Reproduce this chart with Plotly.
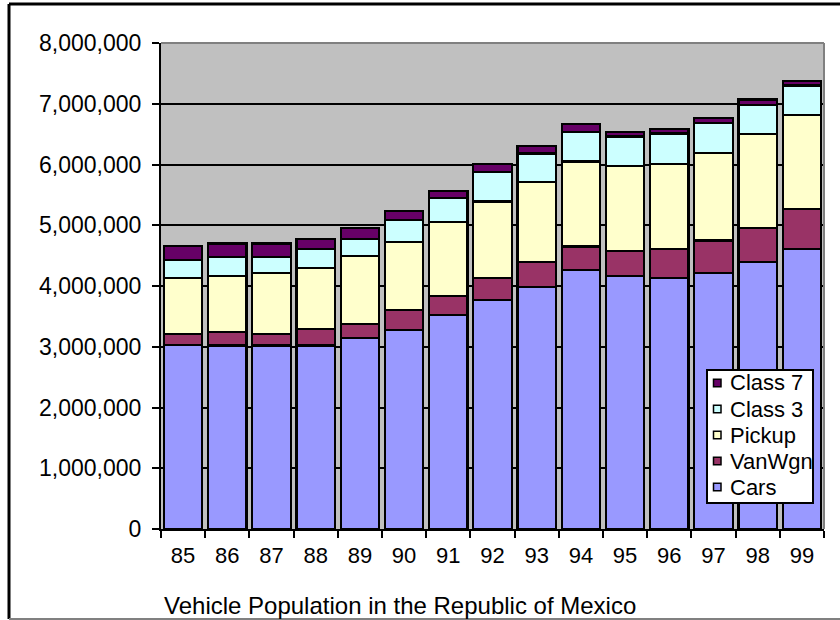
import plotly.graph_objects as go

# Model years (19xx) on the category axis
years = ["85", "86", "87", "88", "89", "90", "91", "92", "93", "94", "95", "96", "97", "98", "99"]

# Vehicle counts per class
cars = [3030000, 3020000, 3020000, 3020000, 3140000, 3280000, 3520000, 3770000,
        3990000, 4260000, 4170000, 4130000, 4210000, 4390000, 4610000]
vanwgn = [185000, 220000, 195000, 270000, 230000, 320000, 310000, 360000,
          400000, 390000, 400000, 480000, 540000, 570000, 660000]
pickup = [915000, 930000, 995000, 1010000, 1120000, 1130000, 1220000, 1260000,
          1320000, 1400000, 1400000, 1400000, 1440000, 1540000, 1540000]
class3 = [300000, 310000, 270000, 310000, 290000, 360000, 400000, 490000,
          470000, 480000, 490000, 500000, 490000, 480000, 490000]
class7 = [230000, 220000, 220000, 170000, 180000, 140000, 120000, 130000,
          130000, 140000, 70000, 70000, 80000, 90000, 70000]

series = [
    ("Cars", cars, "#9999FF"),
    ("VanWgn", vanwgn, "#993366"),
    ("Pickup", pickup, "#FFFFCC"),
    ("Class 3", class3, "#CCFFFF"),
    ("Class 7", class7, "#660066"),
]

FONT = "Arial, Liberation Sans, sans-serif"

fig = go.Figure()
for name, vals, color in series:
    fig.add_trace(go.Bar(
        x=years, y=vals, name=name, showlegend=False,
        marker=dict(color=color, line=dict(color="black", width=2.2)),
    ))

W, H = 840, 620
L, R, T, B = 161, 16, 43, 91
pw, ph = W - L - R, H - T - B

def px_x(p):
    return (p - L) / pw

def px_y(p):
    return (H - B - p) / ph

shapes = [
    # gray outline on the top and right edges of the plot area
    dict(type="line", xref="paper", yref="paper", x0=0, x1=1, y0=1, y1=1,
         line=dict(color="#808080", width=2), layer="below"),
    dict(type="line", xref="paper", yref="paper", x0=1, x1=1, y0=0, y1=1,
         line=dict(color="#808080", width=2)),
    # chart frame
    dict(type="line", xref="paper", yref="paper",
         x0=px_x(9), x1=px_x(860), y0=px_y(4), y1=px_y(4),
         line=dict(color="black", width=3)),
    dict(type="line", xref="paper", yref="paper",
         x0=px_x(9), x1=px_x(9), y0=px_y(4), y1=px_y(619),
         line=dict(color="black", width=3)),
    dict(type="line", xref="paper", yref="paper",
         x0=px_x(9), x1=px_x(860), y0=px_y(619), y1=px_y(619),
         line=dict(color="#808080", width=2)),
]

annotations = [
    dict(text="Vehicle Population in the Republic of Mexico",
         xref="paper", yref="paper", x=px_x(162), y=px_y(605),
         xanchor="left", yanchor="middle", showarrow=False,
         font=dict(family=FONT, size=24, color="black")),
]

# Legend box: entries listed top-down in reverse stacking order
LEG_L, LEG_R, LEG_T, LEG_B = 707, 813, 370, 503
shapes.append(dict(type="rect", xref="paper", yref="paper",
                   x0=px_x(LEG_L), x1=px_x(LEG_R), y0=px_y(LEG_T), y1=px_y(LEG_B),
                   fillcolor="white", line=dict(color="black", width=2)))
row_h = 26
first_row = 383
for i, (name, _, color) in enumerate(reversed(series)):
    cy = first_row + i * row_h
    shapes.append(dict(type="rect", xref="paper", yref="paper",
                       x0=px_x(713.5), x1=px_x(721), y0=px_y(cy - 3.8), y1=px_y(cy + 3.8),
                       fillcolor=color, line=dict(color="black", width=1.5)))
    annotations.append(dict(text=name, xref="paper", yref="paper",
                            x=px_x(728), y=px_y(cy), xanchor="left", yanchor="middle",
                            showarrow=False,
                            font=dict(family=FONT, size=22, color="black")))

fig.update_layout(
    width=W, height=H,
    margin=dict(l=L, r=R, t=T, b=B, autoexpand=False),
    barmode="stack",
    bargap=0.13,
    paper_bgcolor="white",
    plot_bgcolor="#C0C0C0",
    font=dict(family=FONT, size=22, color="black"),
    showlegend=False,
    xaxis=dict(
        type="category",
        showgrid=False,
        showline=True, linecolor="black", linewidth=2,
        ticks="outside", tickson="boundaries", ticklen=7, tickwidth=2, tickcolor="black",
        tickfont=dict(family=FONT, size=22, color="black"),
        ticklabelstandoff=6,
        zeroline=False,
    ),
    yaxis=dict(
        range=[0, 8000000],
        dtick=1000000,
        tickformat=",d",
        showgrid=True, gridcolor="black", gridwidth=2,
        showline=True, linecolor="black", linewidth=2,
        ticks="outside", ticklen=7, tickwidth=2, tickcolor="black",
        tickfont=dict(family=FONT, size=23, color="black"),
        ticklabelstandoff=6,
        zeroline=False,
    ),
    shapes=shapes,
    annotations=annotations,
)

fig.write_html("out.html")
